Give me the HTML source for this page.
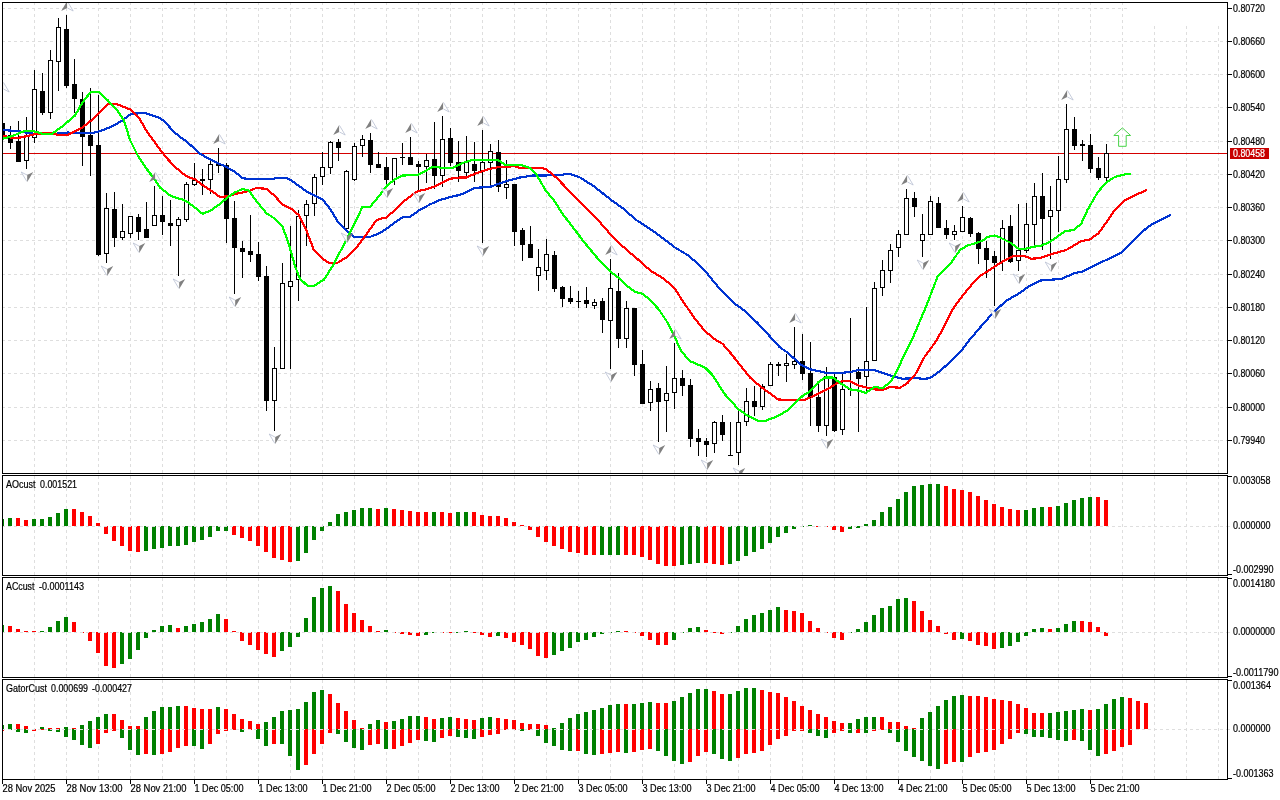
<!DOCTYPE html>
<html lang="en"><head><meta charset="utf-8"><title>Chart</title>
<style>html,body{margin:0;padding:0;background:#fff;width:1280px;height:800px;overflow:hidden}svg{display:block}text{font-family:"Liberation Sans",sans-serif;font-size:10px;fill:#000;stroke:#000;stroke-width:0.2px}.cr{shape-rendering:crispEdges}</style></head><body>
<svg width="1280" height="800" viewBox="0 0 1280 800">
<rect width="1280" height="800" fill="#fff"/>
<defs>
<clipPath id="cw"><rect x="3" y="3" width="1224" height="470"/><rect x="3" y="476" width="1224" height="99"/><rect x="3" y="578" width="1224" height="99"/><rect x="3" y="680" width="1224" height="99"/></clipPath>
<clipPath id="cm"><rect x="3" y="3" width="1224" height="470"/></clipPath>
</defs>
<g class="cr" stroke="#dedede" stroke-width="1" stroke-dasharray="3 3" fill="none" clip-path="url(#cw)">
<line x1="34.5" y1="2" x2="34.5" y2="780"/>
<line x1="66.5" y1="2" x2="66.5" y2="780"/>
<line x1="98.5" y1="2" x2="98.5" y2="780"/>
<line x1="130.5" y1="2" x2="130.5" y2="780"/>
<line x1="162.5" y1="2" x2="162.5" y2="780"/>
<line x1="194.5" y1="2" x2="194.5" y2="780"/>
<line x1="226.5" y1="2" x2="226.5" y2="780"/>
<line x1="258.5" y1="2" x2="258.5" y2="780"/>
<line x1="290.5" y1="2" x2="290.5" y2="780"/>
<line x1="322.5" y1="2" x2="322.5" y2="780"/>
<line x1="354.5" y1="2" x2="354.5" y2="780"/>
<line x1="386.5" y1="2" x2="386.5" y2="780"/>
<line x1="418.5" y1="2" x2="418.5" y2="780"/>
<line x1="450.5" y1="2" x2="450.5" y2="780"/>
<line x1="482.5" y1="2" x2="482.5" y2="780"/>
<line x1="514.5" y1="2" x2="514.5" y2="780"/>
<line x1="546.5" y1="2" x2="546.5" y2="780"/>
<line x1="578.5" y1="2" x2="578.5" y2="780"/>
<line x1="610.5" y1="2" x2="610.5" y2="780"/>
<line x1="642.5" y1="2" x2="642.5" y2="780"/>
<line x1="674.5" y1="2" x2="674.5" y2="780"/>
<line x1="706.5" y1="2" x2="706.5" y2="780"/>
<line x1="738.5" y1="2" x2="738.5" y2="780"/>
<line x1="770.5" y1="2" x2="770.5" y2="780"/>
<line x1="802.5" y1="2" x2="802.5" y2="780"/>
<line x1="834.5" y1="2" x2="834.5" y2="780"/>
<line x1="866.5" y1="2" x2="866.5" y2="780"/>
<line x1="898.5" y1="2" x2="898.5" y2="780"/>
<line x1="930.5" y1="2" x2="930.5" y2="780"/>
<line x1="962.5" y1="2" x2="962.5" y2="780"/>
<line x1="994.5" y1="2" x2="994.5" y2="780"/>
<line x1="1026.5" y1="2" x2="1026.5" y2="780"/>
<line x1="1058.5" y1="2" x2="1058.5" y2="780"/>
<line x1="1090.5" y1="2" x2="1090.5" y2="780"/>
<line x1="1122.5" y1="2" x2="1122.5" y2="780"/>
<line x1="1154.5" y1="2" x2="1154.5" y2="780"/>
<line x1="1186.5" y1="2" x2="1186.5" y2="780"/>
<line x1="1218.5" y1="2" x2="1218.5" y2="780"/>
</g>
<g class="cr" stroke="#dedede" stroke-width="1" stroke-dasharray="3 3" fill="none">
<line x1="2" y1="8.5" x2="1227" y2="8.5"/>
<line x1="2" y1="41.5" x2="1227" y2="41.5"/>
<line x1="2" y1="74.5" x2="1227" y2="74.5"/>
<line x1="2" y1="107.5" x2="1227" y2="107.5"/>
<line x1="2" y1="141.5" x2="1227" y2="141.5"/>
<line x1="2" y1="174.5" x2="1227" y2="174.5"/>
<line x1="2" y1="207.5" x2="1227" y2="207.5"/>
<line x1="2" y1="240.5" x2="1227" y2="240.5"/>
<line x1="2" y1="274.5" x2="1227" y2="274.5"/>
<line x1="2" y1="307.5" x2="1227" y2="307.5"/>
<line x1="2" y1="340.5" x2="1227" y2="340.5"/>
<line x1="2" y1="373.5" x2="1227" y2="373.5"/>
<line x1="2" y1="407.5" x2="1227" y2="407.5"/>
<line x1="2" y1="440.5" x2="1227" y2="440.5"/>
</g>
<rect class="cr" x="1127" y="3" width="100" height="23" fill="#fff"/>
<g class="cr">
<rect x="3" y="153" width="1224" height="1" fill="#d40000"/>
</g>
<g class="cr" id="candles" clip-path="url(#cm)">
<rect x="2" y="96" width="1" height="46" fill="#000"/>
<rect x="0" y="123" width="5" height="15" fill="#000"/>
<rect x="10" y="126" width="1" height="23" fill="#000"/>
<rect x="8" y="135" width="5" height="8" fill="#000"/>
<rect x="18" y="121" width="1" height="41" fill="#000"/>
<rect x="16" y="141" width="5" height="21" fill="#000"/>
<rect x="26" y="117" width="1" height="52" fill="#000"/>
<rect x="24" y="136" width="5" height="25" fill="#000"/>
<rect x="25" y="137" width="3" height="23" fill="#fff"/>
<rect x="34" y="70" width="1" height="73" fill="#000"/>
<rect x="32" y="89" width="5" height="49" fill="#000"/>
<rect x="33" y="90" width="3" height="47" fill="#fff"/>
<rect x="42" y="73" width="1" height="42" fill="#000"/>
<rect x="40" y="91" width="5" height="22" fill="#000"/>
<rect x="50" y="50" width="1" height="69" fill="#000"/>
<rect x="48" y="60" width="5" height="53" fill="#000"/>
<rect x="49" y="61" width="3" height="51" fill="#fff"/>
<rect x="58" y="18" width="1" height="73" fill="#000"/>
<rect x="56" y="27" width="5" height="35" fill="#000"/>
<rect x="57" y="28" width="3" height="33" fill="#fff"/>
<rect x="66" y="15" width="1" height="73" fill="#000"/>
<rect x="64" y="29" width="5" height="57" fill="#000"/>
<rect x="74" y="59" width="1" height="54" fill="#000"/>
<rect x="72" y="84" width="5" height="15" fill="#000"/>
<rect x="82" y="92" width="1" height="74" fill="#000"/>
<rect x="80" y="99" width="5" height="38" fill="#000"/>
<rect x="90" y="88" width="1" height="88" fill="#000"/>
<rect x="88" y="135" width="5" height="11" fill="#000"/>
<rect x="98" y="95" width="1" height="161" fill="#000"/>
<rect x="96" y="145" width="5" height="110" fill="#000"/>
<rect x="106" y="193" width="1" height="70" fill="#000"/>
<rect x="104" y="208" width="5" height="46" fill="#000"/>
<rect x="105" y="209" width="3" height="44" fill="#fff"/>
<rect x="114" y="192" width="1" height="55" fill="#000"/>
<rect x="112" y="209" width="5" height="29" fill="#000"/>
<rect x="122" y="204" width="1" height="36" fill="#000"/>
<rect x="120" y="231" width="5" height="7" fill="#000"/>
<rect x="121" y="232" width="3" height="5" fill="#fff"/>
<rect x="130" y="216" width="1" height="22" fill="#000"/>
<rect x="128" y="216" width="5" height="18" fill="#000"/>
<rect x="129" y="217" width="3" height="16" fill="#fff"/>
<rect x="138" y="214" width="1" height="26" fill="#000"/>
<rect x="136" y="217" width="5" height="15" fill="#000"/>
<rect x="146" y="202" width="1" height="36" fill="#000"/>
<rect x="144" y="229" width="5" height="9" fill="#000"/>
<rect x="154" y="186" width="1" height="40" fill="#000"/>
<rect x="152" y="215" width="5" height="11" fill="#000"/>
<rect x="153" y="216" width="3" height="9" fill="#fff"/>
<rect x="162" y="196" width="1" height="39" fill="#000"/>
<rect x="160" y="215" width="5" height="7" fill="#000"/>
<rect x="170" y="200" width="1" height="46" fill="#000"/>
<rect x="168" y="223" width="5" height="3" fill="#000"/>
<rect x="178" y="217" width="1" height="59" fill="#000"/>
<rect x="176" y="219" width="5" height="7" fill="#000"/>
<rect x="177" y="220" width="3" height="5" fill="#fff"/>
<rect x="186" y="182" width="1" height="40" fill="#000"/>
<rect x="184" y="184" width="5" height="36" fill="#000"/>
<rect x="185" y="185" width="3" height="34" fill="#fff"/>
<rect x="194" y="163" width="1" height="23" fill="#000"/>
<rect x="192" y="180" width="5" height="5" fill="#000"/>
<rect x="193" y="181" width="3" height="3" fill="#fff"/>
<rect x="202" y="169" width="1" height="26" fill="#000"/>
<rect x="200" y="179" width="5" height="2" fill="#000"/>
<rect x="210" y="160" width="1" height="34" fill="#000"/>
<rect x="208" y="164" width="5" height="16" fill="#000"/>
<rect x="209" y="165" width="3" height="14" fill="#fff"/>
<rect x="218" y="148" width="1" height="25" fill="#000"/>
<rect x="216" y="164" width="5" height="2" fill="#000"/>
<rect x="226" y="163" width="1" height="80" fill="#000"/>
<rect x="224" y="165" width="5" height="54" fill="#000"/>
<rect x="234" y="201" width="1" height="93" fill="#000"/>
<rect x="232" y="218" width="5" height="30" fill="#000"/>
<rect x="242" y="241" width="1" height="37" fill="#000"/>
<rect x="240" y="248" width="5" height="4" fill="#000"/>
<rect x="250" y="215" width="1" height="47" fill="#000"/>
<rect x="248" y="251" width="5" height="4" fill="#000"/>
<rect x="258" y="242" width="1" height="39" fill="#000"/>
<rect x="256" y="254" width="5" height="23" fill="#000"/>
<rect x="266" y="266" width="1" height="145" fill="#000"/>
<rect x="264" y="276" width="5" height="125" fill="#000"/>
<rect x="274" y="347" width="1" height="84" fill="#000"/>
<rect x="272" y="368" width="5" height="33" fill="#000"/>
<rect x="273" y="369" width="3" height="31" fill="#fff"/>
<rect x="282" y="263" width="1" height="106" fill="#000"/>
<rect x="280" y="283" width="5" height="86" fill="#000"/>
<rect x="281" y="284" width="3" height="84" fill="#fff"/>
<rect x="290" y="226" width="1" height="143" fill="#000"/>
<rect x="288" y="281" width="5" height="6" fill="#000"/>
<rect x="289" y="282" width="3" height="4" fill="#fff"/>
<rect x="298" y="210" width="1" height="91" fill="#000"/>
<rect x="296" y="216" width="5" height="64" fill="#000"/>
<rect x="297" y="217" width="3" height="62" fill="#fff"/>
<rect x="306" y="200" width="1" height="46" fill="#000"/>
<rect x="304" y="204" width="5" height="12" fill="#000"/>
<rect x="305" y="205" width="3" height="10" fill="#fff"/>
<rect x="314" y="174" width="1" height="42" fill="#000"/>
<rect x="312" y="177" width="5" height="27" fill="#000"/>
<rect x="313" y="178" width="3" height="25" fill="#fff"/>
<rect x="322" y="152" width="1" height="33" fill="#000"/>
<rect x="320" y="167" width="5" height="10" fill="#000"/>
<rect x="321" y="168" width="3" height="8" fill="#fff"/>
<rect x="330" y="141" width="1" height="33" fill="#000"/>
<rect x="328" y="142" width="5" height="26" fill="#000"/>
<rect x="329" y="143" width="3" height="24" fill="#fff"/>
<rect x="338" y="139" width="1" height="22" fill="#000"/>
<rect x="336" y="142" width="5" height="6" fill="#000"/>
<rect x="346" y="170" width="1" height="60" fill="#000"/>
<rect x="344" y="171" width="5" height="58" fill="#000"/>
<rect x="345" y="172" width="3" height="56" fill="#fff"/>
<rect x="354" y="143" width="1" height="38" fill="#000"/>
<rect x="352" y="146" width="5" height="34" fill="#000"/>
<rect x="353" y="147" width="3" height="32" fill="#fff"/>
<rect x="362" y="135" width="1" height="22" fill="#000"/>
<rect x="360" y="139" width="5" height="7" fill="#000"/>
<rect x="361" y="140" width="3" height="5" fill="#fff"/>
<rect x="370" y="133" width="1" height="40" fill="#000"/>
<rect x="368" y="140" width="5" height="25" fill="#000"/>
<rect x="378" y="152" width="1" height="16" fill="#000"/>
<rect x="376" y="164" width="5" height="4" fill="#000"/>
<rect x="386" y="157" width="1" height="28" fill="#000"/>
<rect x="384" y="167" width="5" height="13" fill="#000"/>
<rect x="394" y="158" width="1" height="27" fill="#000"/>
<rect x="392" y="158" width="5" height="22" fill="#000"/>
<rect x="393" y="159" width="3" height="20" fill="#fff"/>
<rect x="402" y="143" width="1" height="22" fill="#000"/>
<rect x="400" y="157" width="5" height="1" fill="#000"/>
<rect x="410" y="137" width="1" height="28" fill="#000"/>
<rect x="408" y="157" width="5" height="8" fill="#000"/>
<rect x="418" y="161" width="1" height="29" fill="#000"/>
<rect x="416" y="164" width="5" height="3" fill="#000"/>
<rect x="426" y="154" width="1" height="29" fill="#000"/>
<rect x="424" y="160" width="5" height="7" fill="#000"/>
<rect x="425" y="161" width="3" height="5" fill="#fff"/>
<rect x="434" y="122" width="1" height="67" fill="#000"/>
<rect x="432" y="159" width="5" height="17" fill="#000"/>
<rect x="442" y="116" width="1" height="71" fill="#000"/>
<rect x="440" y="139" width="5" height="37" fill="#000"/>
<rect x="441" y="140" width="3" height="35" fill="#fff"/>
<rect x="450" y="128" width="1" height="38" fill="#000"/>
<rect x="448" y="138" width="5" height="25" fill="#000"/>
<rect x="458" y="141" width="1" height="41" fill="#000"/>
<rect x="456" y="162" width="5" height="9" fill="#000"/>
<rect x="466" y="136" width="1" height="41" fill="#000"/>
<rect x="464" y="162" width="5" height="11" fill="#000"/>
<rect x="465" y="163" width="3" height="9" fill="#fff"/>
<rect x="474" y="142" width="1" height="40" fill="#000"/>
<rect x="472" y="164" width="5" height="7" fill="#000"/>
<rect x="482" y="130" width="1" height="113" fill="#000"/>
<rect x="480" y="162" width="5" height="9" fill="#000"/>
<rect x="481" y="163" width="3" height="7" fill="#fff"/>
<rect x="490" y="144" width="1" height="41" fill="#000"/>
<rect x="488" y="151" width="5" height="12" fill="#000"/>
<rect x="489" y="152" width="3" height="10" fill="#fff"/>
<rect x="498" y="140" width="1" height="52" fill="#000"/>
<rect x="496" y="152" width="5" height="35" fill="#000"/>
<rect x="506" y="160" width="1" height="39" fill="#000"/>
<rect x="504" y="184" width="5" height="4" fill="#000"/>
<rect x="505" y="185" width="3" height="2" fill="#fff"/>
<rect x="514" y="184" width="1" height="62" fill="#000"/>
<rect x="512" y="184" width="5" height="48" fill="#000"/>
<rect x="522" y="228" width="1" height="33" fill="#000"/>
<rect x="520" y="230" width="5" height="15" fill="#000"/>
<rect x="530" y="226" width="1" height="32" fill="#000"/>
<rect x="528" y="244" width="5" height="14" fill="#000"/>
<rect x="538" y="249" width="1" height="42" fill="#000"/>
<rect x="536" y="267" width="5" height="9" fill="#000"/>
<rect x="537" y="268" width="3" height="7" fill="#fff"/>
<rect x="546" y="239" width="1" height="41" fill="#000"/>
<rect x="544" y="254" width="5" height="17" fill="#000"/>
<rect x="545" y="255" width="3" height="15" fill="#fff"/>
<rect x="554" y="251" width="1" height="41" fill="#000"/>
<rect x="552" y="255" width="5" height="34" fill="#000"/>
<rect x="562" y="286" width="1" height="21" fill="#000"/>
<rect x="560" y="287" width="5" height="12" fill="#000"/>
<rect x="570" y="286" width="1" height="18" fill="#000"/>
<rect x="568" y="298" width="5" height="4" fill="#000"/>
<rect x="578" y="291" width="1" height="17" fill="#000"/>
<rect x="576" y="301" width="5" height="1" fill="#000"/>
<rect x="586" y="287" width="1" height="21" fill="#000"/>
<rect x="584" y="300" width="5" height="4" fill="#000"/>
<rect x="594" y="299" width="1" height="10" fill="#000"/>
<rect x="592" y="302" width="5" height="4" fill="#000"/>
<rect x="593" y="303" width="3" height="2" fill="#fff"/>
<rect x="602" y="298" width="1" height="35" fill="#000"/>
<rect x="600" y="301" width="5" height="19" fill="#000"/>
<rect x="610" y="259" width="1" height="110" fill="#000"/>
<rect x="608" y="288" width="5" height="33" fill="#000"/>
<rect x="609" y="289" width="3" height="31" fill="#fff"/>
<rect x="618" y="273" width="1" height="75" fill="#000"/>
<rect x="616" y="291" width="5" height="48" fill="#000"/>
<rect x="626" y="301" width="1" height="47" fill="#000"/>
<rect x="624" y="308" width="5" height="31" fill="#000"/>
<rect x="625" y="309" width="3" height="29" fill="#fff"/>
<rect x="634" y="308" width="1" height="68" fill="#000"/>
<rect x="632" y="308" width="5" height="57" fill="#000"/>
<rect x="642" y="350" width="1" height="54" fill="#000"/>
<rect x="640" y="364" width="5" height="40" fill="#000"/>
<rect x="650" y="381" width="1" height="30" fill="#000"/>
<rect x="648" y="389" width="5" height="14" fill="#000"/>
<rect x="649" y="390" width="3" height="12" fill="#fff"/>
<rect x="658" y="383" width="1" height="59" fill="#000"/>
<rect x="656" y="388" width="5" height="14" fill="#000"/>
<rect x="666" y="366" width="1" height="66" fill="#000"/>
<rect x="664" y="393" width="5" height="8" fill="#000"/>
<rect x="665" y="394" width="3" height="6" fill="#fff"/>
<rect x="674" y="343" width="1" height="66" fill="#000"/>
<rect x="672" y="378" width="5" height="15" fill="#000"/>
<rect x="673" y="379" width="3" height="13" fill="#fff"/>
<rect x="682" y="370" width="1" height="26" fill="#000"/>
<rect x="680" y="378" width="5" height="8" fill="#000"/>
<rect x="690" y="379" width="1" height="68" fill="#000"/>
<rect x="688" y="385" width="5" height="54" fill="#000"/>
<rect x="698" y="429" width="1" height="27" fill="#000"/>
<rect x="696" y="438" width="5" height="4" fill="#000"/>
<rect x="706" y="438" width="1" height="19" fill="#000"/>
<rect x="704" y="441" width="5" height="4" fill="#000"/>
<rect x="714" y="421" width="1" height="32" fill="#000"/>
<rect x="712" y="422" width="5" height="22" fill="#000"/>
<rect x="713" y="423" width="3" height="20" fill="#fff"/>
<rect x="722" y="415" width="1" height="26" fill="#000"/>
<rect x="720" y="422" width="5" height="13" fill="#000"/>
<rect x="730" y="422" width="1" height="34" fill="#000"/>
<rect x="728" y="455" width="5" height="1" fill="#000"/>
<rect x="738" y="410" width="1" height="55" fill="#000"/>
<rect x="736" y="422" width="5" height="31" fill="#000"/>
<rect x="737" y="423" width="3" height="29" fill="#fff"/>
<rect x="746" y="388" width="1" height="38" fill="#000"/>
<rect x="744" y="401" width="5" height="21" fill="#000"/>
<rect x="745" y="402" width="3" height="19" fill="#fff"/>
<rect x="754" y="386" width="1" height="30" fill="#000"/>
<rect x="752" y="401" width="5" height="6" fill="#000"/>
<rect x="762" y="384" width="1" height="26" fill="#000"/>
<rect x="760" y="386" width="5" height="21" fill="#000"/>
<rect x="761" y="387" width="3" height="19" fill="#fff"/>
<rect x="770" y="362" width="1" height="24" fill="#000"/>
<rect x="768" y="364" width="5" height="22" fill="#000"/>
<rect x="769" y="365" width="3" height="20" fill="#fff"/>
<rect x="778" y="362" width="1" height="14" fill="#000"/>
<rect x="776" y="364" width="5" height="2" fill="#000"/>
<rect x="786" y="354" width="1" height="28" fill="#000"/>
<rect x="784" y="363" width="5" height="3" fill="#000"/>
<rect x="785" y="364" width="3" height="1" fill="#fff"/>
<rect x="794" y="327" width="1" height="42" fill="#000"/>
<rect x="792" y="361" width="5" height="4" fill="#000"/>
<rect x="793" y="362" width="3" height="2" fill="#fff"/>
<rect x="802" y="334" width="1" height="46" fill="#000"/>
<rect x="800" y="361" width="5" height="13" fill="#000"/>
<rect x="810" y="342" width="1" height="84" fill="#000"/>
<rect x="808" y="373" width="5" height="25" fill="#000"/>
<rect x="818" y="384" width="1" height="48" fill="#000"/>
<rect x="816" y="397" width="5" height="29" fill="#000"/>
<rect x="826" y="367" width="1" height="69" fill="#000"/>
<rect x="824" y="376" width="5" height="50" fill="#000"/>
<rect x="825" y="377" width="3" height="48" fill="#fff"/>
<rect x="834" y="374" width="1" height="58" fill="#000"/>
<rect x="832" y="377" width="5" height="54" fill="#000"/>
<rect x="842" y="374" width="1" height="61" fill="#000"/>
<rect x="840" y="389" width="5" height="41" fill="#000"/>
<rect x="841" y="390" width="3" height="39" fill="#fff"/>
<rect x="850" y="318" width="1" height="78" fill="#000"/>
<rect x="848" y="389" width="5" height="1" fill="#000"/>
<rect x="858" y="367" width="1" height="65" fill="#000"/>
<rect x="856" y="372" width="5" height="7" fill="#000"/>
<rect x="866" y="307" width="1" height="85" fill="#000"/>
<rect x="864" y="361" width="5" height="16" fill="#000"/>
<rect x="865" y="362" width="3" height="14" fill="#fff"/>
<rect x="874" y="282" width="1" height="79" fill="#000"/>
<rect x="872" y="288" width="5" height="73" fill="#000"/>
<rect x="873" y="289" width="3" height="71" fill="#fff"/>
<rect x="882" y="260" width="1" height="36" fill="#000"/>
<rect x="880" y="270" width="5" height="18" fill="#000"/>
<rect x="881" y="271" width="3" height="16" fill="#fff"/>
<rect x="890" y="244" width="1" height="39" fill="#000"/>
<rect x="888" y="250" width="5" height="21" fill="#000"/>
<rect x="889" y="251" width="3" height="19" fill="#fff"/>
<rect x="898" y="230" width="1" height="27" fill="#000"/>
<rect x="896" y="234" width="5" height="14" fill="#000"/>
<rect x="897" y="235" width="3" height="12" fill="#fff"/>
<rect x="906" y="189" width="1" height="46" fill="#000"/>
<rect x="904" y="198" width="5" height="37" fill="#000"/>
<rect x="905" y="199" width="3" height="35" fill="#fff"/>
<rect x="914" y="192" width="1" height="25" fill="#000"/>
<rect x="912" y="198" width="5" height="9" fill="#000"/>
<rect x="922" y="214" width="1" height="43" fill="#000"/>
<rect x="920" y="234" width="5" height="7" fill="#000"/>
<rect x="921" y="235" width="3" height="5" fill="#fff"/>
<rect x="930" y="196" width="1" height="39" fill="#000"/>
<rect x="928" y="201" width="5" height="34" fill="#000"/>
<rect x="929" y="202" width="3" height="32" fill="#fff"/>
<rect x="938" y="197" width="1" height="31" fill="#000"/>
<rect x="936" y="203" width="5" height="25" fill="#000"/>
<rect x="946" y="220" width="1" height="19" fill="#000"/>
<rect x="944" y="228" width="5" height="7" fill="#000"/>
<rect x="954" y="225" width="1" height="15" fill="#000"/>
<rect x="952" y="231" width="5" height="4" fill="#000"/>
<rect x="953" y="232" width="3" height="2" fill="#fff"/>
<rect x="962" y="206" width="1" height="26" fill="#000"/>
<rect x="960" y="217" width="5" height="15" fill="#000"/>
<rect x="961" y="218" width="3" height="13" fill="#fff"/>
<rect x="970" y="217" width="1" height="20" fill="#000"/>
<rect x="968" y="218" width="5" height="16" fill="#000"/>
<rect x="978" y="232" width="1" height="32" fill="#000"/>
<rect x="976" y="233" width="5" height="16" fill="#000"/>
<rect x="986" y="241" width="1" height="37" fill="#000"/>
<rect x="984" y="248" width="5" height="12" fill="#000"/>
<rect x="994" y="251" width="1" height="55" fill="#000"/>
<rect x="992" y="256" width="5" height="7" fill="#000"/>
<rect x="1002" y="220" width="1" height="51" fill="#000"/>
<rect x="1000" y="228" width="5" height="34" fill="#000"/>
<rect x="1001" y="229" width="3" height="32" fill="#fff"/>
<rect x="1010" y="215" width="1" height="48" fill="#000"/>
<rect x="1008" y="226" width="5" height="36" fill="#000"/>
<rect x="1018" y="204" width="1" height="67" fill="#000"/>
<rect x="1016" y="250" width="5" height="11" fill="#000"/>
<rect x="1017" y="251" width="3" height="9" fill="#fff"/>
<rect x="1026" y="203" width="1" height="50" fill="#000"/>
<rect x="1024" y="224" width="5" height="27" fill="#000"/>
<rect x="1025" y="225" width="3" height="25" fill="#fff"/>
<rect x="1034" y="183" width="1" height="63" fill="#000"/>
<rect x="1032" y="196" width="5" height="29" fill="#000"/>
<rect x="1033" y="197" width="3" height="27" fill="#fff"/>
<rect x="1042" y="173" width="1" height="77" fill="#000"/>
<rect x="1040" y="196" width="5" height="23" fill="#000"/>
<rect x="1050" y="186" width="1" height="73" fill="#000"/>
<rect x="1048" y="210" width="5" height="7" fill="#000"/>
<rect x="1049" y="211" width="3" height="5" fill="#fff"/>
<rect x="1058" y="156" width="1" height="76" fill="#000"/>
<rect x="1056" y="179" width="5" height="32" fill="#000"/>
<rect x="1057" y="180" width="3" height="30" fill="#fff"/>
<rect x="1066" y="104" width="1" height="79" fill="#000"/>
<rect x="1064" y="129" width="5" height="51" fill="#000"/>
<rect x="1065" y="130" width="3" height="49" fill="#fff"/>
<rect x="1074" y="117" width="1" height="33" fill="#000"/>
<rect x="1072" y="129" width="5" height="17" fill="#000"/>
<rect x="1082" y="140" width="1" height="21" fill="#000"/>
<rect x="1080" y="144" width="5" height="2" fill="#000"/>
<rect x="1090" y="134" width="1" height="39" fill="#000"/>
<rect x="1088" y="145" width="5" height="24" fill="#000"/>
<rect x="1098" y="157" width="1" height="23" fill="#000"/>
<rect x="1096" y="168" width="5" height="10" fill="#000"/>
<rect x="1106" y="144" width="1" height="37" fill="#000"/>
<rect x="1104" y="153" width="5" height="25" fill="#000"/>
<rect x="1105" y="154" width="3" height="23" fill="#fff"/>
</g>
<g id="ma" clip-path="url(#cm)" shape-rendering="crispEdges">
<polyline points="3.0,130.0 18.8,131.2 31.0,133.5 50.0,134.4 67.5,132.5 75.0,133.0 92.5,133.0 100.0,131.2 112.5,126.2 122.0,120.6 131.0,113.8 145.0,113.0 160.0,118.0 166.2,123.0 172.5,130.6 180.0,136.9 186.2,141.2 193.8,148.0 200.0,153.8 207.5,158.0 215.0,161.9 225.0,166.2 235.0,171.9 242.5,178.0 247.5,179.0 273.8,179.0 275.0,178.0 286.2,178.0 290.6,180.0 306.2,191.2 322.5,199.4 330.0,208.8 337.5,221.2 347.5,231.2 354.4,236.9 370.0,236.9 380.0,233.0 387.5,228.0 395.0,222.5 402.5,217.2 410.0,216.9 418.8,210.6 430.0,204.4 440.0,200.0 450.0,197.2 460.0,194.8 462.5,193.8 475.0,188.0 491.2,186.5 506.2,181.2 520.0,177.5 532.5,175.6 562.5,175.2 565.0,173.8 570.0,173.8 580.0,177.5 593.8,186.2 611.2,200.0 622.5,208.0 636.2,220.0 650.0,228.8 662.5,238.0 675.0,247.5 687.5,255.0 695.0,261.2 707.5,273.8 717.5,286.2 720.6,290.0 732.5,301.9 745.0,311.2 757.5,323.0 767.5,333.8 780.0,347.5 787.5,352.5 800.0,363.8 802.5,365.6 810.5,369.4 826.0,372.8 840.0,373.0 850.5,371.9 858.5,370.0 874.5,370.0 882.5,373.0 893.8,376.5 902.5,378.8 915.0,378.0 925.0,379.0 931.0,377.5 940.0,371.0 950.0,362.0 962.0,350.0 969.4,340.0 981.2,326.2 995.0,310.6 1007.5,300.0 1017.5,294.4 1030.0,285.6 1040.0,280.6 1062.0,278.8 1074.5,273.0 1082.0,271.8 1098.0,263.8 1122.0,252.5 1125.0,248.8 1141.2,232.5 1150.0,225.6 1160.0,220.0 1171.0,215.0" fill="none" stroke="#0034d2" stroke-width="2.2" stroke-linejoin="round" stroke-linecap="butt"/>
<polyline points="3.0,135.6 12.5,138.0 21.0,137.5 36.0,133.8 50.0,133.0 58.8,135.0 67.5,135.0 82.5,127.5 92.5,119.4 107.5,104.4 116.0,103.8 130.0,109.4 138.8,117.5 147.5,132.5 160.0,149.4 166.2,157.5 175.0,166.9 186.2,176.2 195.0,179.4 202.5,185.0 210.0,190.0 220.0,196.9 228.8,196.2 236.2,193.8 245.0,191.9 250.0,190.6 256.2,188.0 266.2,188.8 273.8,195.0 282.5,204.4 291.2,208.8 298.8,215.0 306.2,230.0 313.8,250.0 322.5,258.8 328.8,262.8 337.5,262.8 346.2,257.5 355.0,249.4 365.0,236.2 376.2,220.6 380.0,218.8 386.2,217.5 395.0,210.0 403.8,201.2 417.5,191.2 426.2,189.4 435.0,186.2 450.0,178.8 460.0,177.5 466.2,177.5 475.0,173.8 488.8,169.0 500.0,166.9 515.0,166.2 520.0,168.0 542.5,168.0 546.2,169.4 556.2,177.5 575.0,196.9 596.2,218.0 610.0,233.8 621.2,245.0 631.2,253.8 640.0,261.2 646.2,266.9 652.5,271.9 662.5,278.0 671.2,285.0 675.6,290.0 685.0,304.4 695.0,318.8 705.0,331.2 715.0,339.4 722.5,343.8 731.2,353.8 740.0,365.0 750.0,377.5 760.0,386.2 765.0,390.0 770.5,393.8 778.0,399.5 790.0,400.0 803.8,400.0 810.5,397.5 826.0,390.0 837.5,383.0 842.5,381.0 848.8,380.6 858.5,385.6 866.5,387.5 875.0,389.4 883.8,389.4 890.0,387.0 900.0,387.8 907.5,383.0 915.0,375.0 924.5,357.0 936.9,340.0 953.8,307.5 967.5,289.4 978.8,276.9 992.5,268.0 1005.0,260.0 1015.0,255.6 1023.8,255.6 1031.2,258.8 1040.0,258.0 1052.0,254.0 1066.2,250.0 1081.2,241.2 1090.0,239.4 1098.8,233.0 1106.2,222.5 1113.8,211.2 1123.8,201.2 1131.2,196.9 1147.0,190.0" fill="none" stroke="#ff0000" stroke-width="2.2" stroke-linejoin="round" stroke-linecap="butt"/>
<polyline points="3.0,138.8 12.5,136.0 23.8,131.2 33.8,131.2 42.5,133.8 51.0,134.4 62.5,126.2 75.0,115.6 82.5,102.5 90.6,92.0 98.8,92.0 107.5,100.0 116.0,108.8 123.8,120.0 130.0,140.0 137.5,155.0 147.5,170.0 155.0,180.0 160.0,187.5 171.2,196.2 183.8,200.0 186.0,201.0 195.0,207.5 202.5,213.8 210.0,211.0 220.0,203.8 227.5,197.5 235.0,192.5 242.5,188.8 248.8,190.6 257.5,202.5 266.2,213.0 275.0,218.8 282.5,226.9 287.5,240.0 291.2,252.5 295.0,266.2 300.0,278.8 307.5,285.8 313.8,286.0 321.5,281.0 323.8,280.0 332.5,266.2 345.0,242.5 355.0,222.5 362.5,206.9 370.0,206.9 380.0,195.0 387.5,185.0 395.0,179.4 402.5,175.6 417.5,174.8 425.0,171.2 432.5,167.0 437.5,167.0 441.2,168.0 452.5,168.0 460.0,164.4 464.0,162.5 472.5,160.0 497.5,159.6 505.0,164.6 521.2,165.0 530.0,168.0 536.2,174.4 546.2,191.2 553.8,200.0 562.5,213.8 575.0,230.0 582.5,240.0 586.5,245.0 599.0,260.0 610.0,271.2 618.8,278.0 627.5,286.2 635.0,291.9 642.5,293.8 648.8,298.8 658.8,309.4 667.5,322.5 675.0,337.5 681.2,351.2 690.0,361.2 705.0,367.5 712.5,375.0 721.2,388.8 725.5,395.0 738.0,408.8 748.0,416.0 758.0,420.8 765.5,420.8 778.0,416.0 788.0,410.0 790.0,408.0 802.5,396.0 810.5,391.0 818.5,382.0 825.0,377.5 833.0,377.5 840.0,383.0 850.5,389.4 858.5,390.6 865.6,393.0 874.5,387.0 882.5,388.0 890.0,382.5 896.0,373.0 902.5,358.8 911.9,340.0 926.2,306.2 937.5,276.9 950.0,264.4 960.0,250.0 967.5,245.6 977.5,242.5 983.8,240.0 987.0,237.0 994.5,235.5 1000.0,237.5 1010.0,242.5 1018.8,248.8 1025.0,248.8 1032.5,246.9 1041.2,245.6 1050.0,241.9 1065.0,231.2 1073.8,230.0 1081.2,223.8 1087.5,210.0 1097.5,192.5 1106.2,182.5 1115.0,176.9 1125.0,174.4 1131.0,173.8" fill="none" stroke="#00ff00" stroke-width="2.2" stroke-linejoin="round" stroke-linecap="butt"/>
</g>
<g id="fract" clip-path="url(#cm)">
<path d="M3.2 82 L-2.8 92 L3.2 89 Z" fill="#808080"/>
<path d="M3.5 82.5 L9.2 92 L3.5 89" fill="#fff" stroke="#b8bfd2" stroke-width="0.8"/>
<path d="M67.2 1 L61.2 11 L67.2 8 Z" fill="#808080"/>
<path d="M67.5 1.5 L73.2 11 L67.5 8" fill="#fff" stroke="#b8bfd2" stroke-width="0.8"/>
<path d="M155.2 172 L149.2 182 L155.2 179 Z" fill="#808080"/>
<path d="M155.5 172.5 L161.2 182 L155.5 179" fill="#fff" stroke="#b8bfd2" stroke-width="0.8"/>
<path d="M219.2 134 L213.2 144 L219.2 141 Z" fill="#808080"/>
<path d="M219.5 134.5 L225.2 144 L219.5 141" fill="#fff" stroke="#b8bfd2" stroke-width="0.8"/>
<path d="M339.2 125 L333.2 135 L339.2 132 Z" fill="#808080"/>
<path d="M339.5 125.5 L345.2 135 L339.5 132" fill="#fff" stroke="#b8bfd2" stroke-width="0.8"/>
<path d="M371.2 119 L365.2 129 L371.2 126 Z" fill="#808080"/>
<path d="M371.5 119.5 L377.2 129 L371.5 126" fill="#fff" stroke="#b8bfd2" stroke-width="0.8"/>
<path d="M411.2 123 L405.2 133 L411.2 130 Z" fill="#808080"/>
<path d="M411.5 123.5 L417.2 133 L411.5 130" fill="#fff" stroke="#b8bfd2" stroke-width="0.8"/>
<path d="M443.2 102 L437.2 112 L443.2 109 Z" fill="#808080"/>
<path d="M443.5 102.5 L449.2 112 L443.5 109" fill="#fff" stroke="#b8bfd2" stroke-width="0.8"/>
<path d="M483.2 116 L477.2 126 L483.2 123 Z" fill="#808080"/>
<path d="M483.5 116.5 L489.2 126 L483.5 123" fill="#fff" stroke="#b8bfd2" stroke-width="0.8"/>
<path d="M611.2 245 L605.2 255 L611.2 252 Z" fill="#808080"/>
<path d="M611.5 245.5 L617.2 255 L611.5 252" fill="#fff" stroke="#b8bfd2" stroke-width="0.8"/>
<path d="M675.2 329 L669.2 339 L675.2 336 Z" fill="#808080"/>
<path d="M675.5 329.5 L681.2 339 L675.5 336" fill="#fff" stroke="#b8bfd2" stroke-width="0.8"/>
<path d="M795.2 313 L789.2 323 L795.2 320 Z" fill="#808080"/>
<path d="M795.5 313.5 L801.2 323 L795.5 320" fill="#fff" stroke="#b8bfd2" stroke-width="0.8"/>
<path d="M907.2 175 L901.2 185 L907.2 182 Z" fill="#808080"/>
<path d="M907.5 175.5 L913.2 185 L907.5 182" fill="#fff" stroke="#b8bfd2" stroke-width="0.8"/>
<path d="M963.2 192 L957.2 202 L963.2 199 Z" fill="#808080"/>
<path d="M963.5 192.5 L969.2 202 L963.5 199" fill="#fff" stroke="#b8bfd2" stroke-width="0.8"/>
<path d="M1067.2 90 L1061.2 100 L1067.2 97 Z" fill="#808080"/>
<path d="M1067.5 90.5 L1073.2 100 L1067.5 97" fill="#fff" stroke="#b8bfd2" stroke-width="0.8"/>
<path d="M27.2 182 L33.2 172 L27.2 175 Z" fill="#808080"/>
<path d="M26.9 181.5 L21.2 172 L26.9 175" fill="#fff" stroke="#b8bfd2" stroke-width="0.8"/>
<path d="M107.2 276 L113.2 266 L107.2 269 Z" fill="#808080"/>
<path d="M106.9 275.5 L101.2 266 L106.9 269" fill="#fff" stroke="#b8bfd2" stroke-width="0.8"/>
<path d="M139.2 253 L145.2 243 L139.2 246 Z" fill="#808080"/>
<path d="M138.89999999999998 252.5 L133.2 243 L138.89999999999998 246" fill="#fff" stroke="#b8bfd2" stroke-width="0.8"/>
<path d="M179.2 289 L185.2 279 L179.2 282 Z" fill="#808080"/>
<path d="M178.89999999999998 288.5 L173.2 279 L178.89999999999998 282" fill="#fff" stroke="#b8bfd2" stroke-width="0.8"/>
<path d="M235.2 307 L241.2 297 L235.2 300 Z" fill="#808080"/>
<path d="M234.89999999999998 306.5 L229.2 297 L234.89999999999998 300" fill="#fff" stroke="#b8bfd2" stroke-width="0.8"/>
<path d="M275.2 444 L281.2 434 L275.2 437 Z" fill="#808080"/>
<path d="M274.9 443.5 L269.2 434 L274.9 437" fill="#fff" stroke="#b8bfd2" stroke-width="0.8"/>
<path d="M347.2 243 L353.2 233 L347.2 236 Z" fill="#808080"/>
<path d="M346.9 242.5 L341.2 233 L346.9 236" fill="#fff" stroke="#b8bfd2" stroke-width="0.8"/>
<path d="M387.2 198 L393.2 188 L387.2 191 Z" fill="#808080"/>
<path d="M386.9 197.5 L381.2 188 L386.9 191" fill="#fff" stroke="#b8bfd2" stroke-width="0.8"/>
<path d="M419.2 203 L425.2 193 L419.2 196 Z" fill="#808080"/>
<path d="M418.9 202.5 L413.2 193 L418.9 196" fill="#fff" stroke="#b8bfd2" stroke-width="0.8"/>
<path d="M483.2 256 L489.2 246 L483.2 249 Z" fill="#808080"/>
<path d="M482.9 255.5 L477.2 246 L482.9 249" fill="#fff" stroke="#b8bfd2" stroke-width="0.8"/>
<path d="M611.2 382 L617.2 372 L611.2 375 Z" fill="#808080"/>
<path d="M610.9000000000001 381.5 L605.2 372 L610.9000000000001 375" fill="#fff" stroke="#b8bfd2" stroke-width="0.8"/>
<path d="M659.2 455 L665.2 445 L659.2 448 Z" fill="#808080"/>
<path d="M658.9000000000001 454.5 L653.2 445 L658.9000000000001 448" fill="#fff" stroke="#b8bfd2" stroke-width="0.8"/>
<path d="M707.2 470 L713.2 460 L707.2 463 Z" fill="#808080"/>
<path d="M706.9000000000001 469.5 L701.2 460 L706.9000000000001 463" fill="#fff" stroke="#b8bfd2" stroke-width="0.8"/>
<path d="M739.2 478 L745.2 468 L739.2 471 Z" fill="#808080"/>
<path d="M738.9000000000001 477.5 L733.2 468 L738.9000000000001 471" fill="#fff" stroke="#b8bfd2" stroke-width="0.8"/>
<path d="M827.2 449 L833.2 439 L827.2 442 Z" fill="#808080"/>
<path d="M826.9000000000001 448.5 L821.2 439 L826.9000000000001 442" fill="#fff" stroke="#b8bfd2" stroke-width="0.8"/>
<path d="M923.2 270 L929.2 260 L923.2 263 Z" fill="#808080"/>
<path d="M922.9000000000001 269.5 L917.2 260 L922.9000000000001 263" fill="#fff" stroke="#b8bfd2" stroke-width="0.8"/>
<path d="M955.2 253 L961.2 243 L955.2 246 Z" fill="#808080"/>
<path d="M954.9000000000001 252.5 L949.2 243 L954.9000000000001 246" fill="#fff" stroke="#b8bfd2" stroke-width="0.8"/>
<path d="M995.2 319 L1001.2 309 L995.2 312 Z" fill="#808080"/>
<path d="M994.9000000000001 318.5 L989.2 309 L994.9000000000001 312" fill="#fff" stroke="#b8bfd2" stroke-width="0.8"/>
<path d="M1019.2 284 L1025.2 274 L1019.2 277 Z" fill="#808080"/>
<path d="M1018.9000000000001 283.5 L1013.2 274 L1018.9000000000001 277" fill="#fff" stroke="#b8bfd2" stroke-width="0.8"/>
<path d="M1051.2 272 L1057.2 262 L1051.2 265 Z" fill="#808080"/>
<path d="M1050.9 271.5 L1045.2 262 L1050.9 265" fill="#fff" stroke="#b8bfd2" stroke-width="0.8"/>
</g>
<path d="M1122.4 127.9 L1130.6 135.5 L1126.2 135.5 L1126.2 146.3 L1118.6 146.3 L1118.6 135.5 L1113.8 135.5 Z" fill="none" stroke="#48d448" stroke-width="1" stroke-linejoin="miter"/>
<g class="cr" id="hist">
<rect x="0" y="519" width="4" height="7" fill="#008000"/>
<rect x="8" y="518" width="4" height="8" fill="#008000"/>
<rect x="16" y="518" width="4" height="8" fill="#ff0000"/>
<rect x="24" y="520" width="4" height="6" fill="#ff0000"/>
<rect x="32" y="519" width="4" height="7" fill="#008000"/>
<rect x="40" y="519" width="4" height="7" fill="#008000"/>
<rect x="48" y="517" width="4" height="9" fill="#008000"/>
<rect x="56" y="513" width="4" height="13" fill="#008000"/>
<rect x="64" y="509" width="4" height="17" fill="#008000"/>
<rect x="72" y="509" width="4" height="17" fill="#ff0000"/>
<rect x="80" y="512" width="4" height="14" fill="#ff0000"/>
<rect x="88" y="516" width="4" height="10" fill="#ff0000"/>
<rect x="96" y="523" width="4" height="3" fill="#ff0000"/>
<rect x="104" y="526" width="4" height="8" fill="#ff0000"/>
<rect x="112" y="526" width="4" height="15" fill="#ff0000"/>
<rect x="120" y="526" width="4" height="20" fill="#ff0000"/>
<rect x="128" y="526" width="4" height="25" fill="#ff0000"/>
<rect x="136" y="526" width="4" height="26" fill="#ff0000"/>
<rect x="144" y="526" width="4" height="25" fill="#008000"/>
<rect x="152" y="526" width="4" height="23" fill="#008000"/>
<rect x="160" y="526" width="4" height="22" fill="#008000"/>
<rect x="168" y="526" width="4" height="20" fill="#008000"/>
<rect x="176" y="526" width="4" height="20" fill="#008000"/>
<rect x="184" y="526" width="4" height="19" fill="#008000"/>
<rect x="192" y="526" width="4" height="16" fill="#008000"/>
<rect x="200" y="526" width="4" height="14" fill="#008000"/>
<rect x="208" y="526" width="4" height="11" fill="#008000"/>
<rect x="216" y="526" width="4" height="5" fill="#008000"/>
<rect x="224" y="526" width="4" height="5" fill="#008000"/>
<rect x="232" y="526" width="4" height="9" fill="#ff0000"/>
<rect x="240" y="526" width="4" height="12" fill="#ff0000"/>
<rect x="248" y="526" width="4" height="15" fill="#ff0000"/>
<rect x="256" y="526" width="4" height="20" fill="#ff0000"/>
<rect x="264" y="526" width="4" height="26" fill="#ff0000"/>
<rect x="272" y="526" width="4" height="32" fill="#ff0000"/>
<rect x="280" y="526" width="4" height="34" fill="#ff0000"/>
<rect x="288" y="526" width="4" height="36" fill="#ff0000"/>
<rect x="296" y="526" width="4" height="35" fill="#008000"/>
<rect x="304" y="526" width="4" height="27" fill="#008000"/>
<rect x="312" y="526" width="4" height="14" fill="#008000"/>
<rect x="320" y="526" width="4" height="5" fill="#008000"/>
<rect x="328" y="522" width="4" height="4" fill="#008000"/>
<rect x="336" y="514" width="4" height="12" fill="#008000"/>
<rect x="344" y="512" width="4" height="14" fill="#008000"/>
<rect x="352" y="510" width="4" height="16" fill="#008000"/>
<rect x="360" y="508" width="4" height="18" fill="#008000"/>
<rect x="368" y="508" width="4" height="18" fill="#008000"/>
<rect x="376" y="509" width="4" height="17" fill="#ff0000"/>
<rect x="384" y="508" width="4" height="18" fill="#008000"/>
<rect x="392" y="509" width="4" height="17" fill="#ff0000"/>
<rect x="400" y="510" width="4" height="16" fill="#ff0000"/>
<rect x="408" y="511" width="4" height="15" fill="#ff0000"/>
<rect x="416" y="512" width="4" height="14" fill="#ff0000"/>
<rect x="424" y="512" width="4" height="14" fill="#ff0000"/>
<rect x="432" y="512" width="4" height="14" fill="#008000"/>
<rect x="440" y="512" width="4" height="14" fill="#ff0000"/>
<rect x="448" y="513" width="4" height="13" fill="#ff0000"/>
<rect x="456" y="512" width="4" height="14" fill="#008000"/>
<rect x="464" y="512" width="4" height="14" fill="#008000"/>
<rect x="472" y="512" width="4" height="14" fill="#ff0000"/>
<rect x="480" y="515" width="4" height="11" fill="#ff0000"/>
<rect x="488" y="516" width="4" height="10" fill="#ff0000"/>
<rect x="496" y="516" width="4" height="10" fill="#ff0000"/>
<rect x="504" y="518" width="4" height="8" fill="#ff0000"/>
<rect x="512" y="522" width="4" height="4" fill="#ff0000"/>
<rect x="520" y="525" width="4" height="1" fill="#ff0000"/>
<rect x="528" y="526" width="4" height="4" fill="#ff0000"/>
<rect x="536" y="526" width="4" height="11" fill="#ff0000"/>
<rect x="544" y="526" width="4" height="16" fill="#ff0000"/>
<rect x="552" y="526" width="4" height="20" fill="#ff0000"/>
<rect x="560" y="526" width="4" height="23" fill="#ff0000"/>
<rect x="568" y="526" width="4" height="26" fill="#ff0000"/>
<rect x="576" y="526" width="4" height="27" fill="#ff0000"/>
<rect x="584" y="526" width="4" height="29" fill="#ff0000"/>
<rect x="592" y="526" width="4" height="29" fill="#ff0000"/>
<rect x="600" y="526" width="4" height="29" fill="#008000"/>
<rect x="608" y="526" width="4" height="29" fill="#008000"/>
<rect x="616" y="526" width="4" height="29" fill="#008000"/>
<rect x="624" y="526" width="4" height="29" fill="#ff0000"/>
<rect x="632" y="526" width="4" height="29" fill="#ff0000"/>
<rect x="640" y="526" width="4" height="31" fill="#ff0000"/>
<rect x="648" y="526" width="4" height="34" fill="#ff0000"/>
<rect x="656" y="526" width="4" height="38" fill="#ff0000"/>
<rect x="664" y="526" width="4" height="40" fill="#ff0000"/>
<rect x="672" y="526" width="4" height="40" fill="#ff0000"/>
<rect x="680" y="526" width="4" height="39" fill="#008000"/>
<rect x="688" y="526" width="4" height="38" fill="#008000"/>
<rect x="696" y="526" width="4" height="37" fill="#008000"/>
<rect x="704" y="526" width="4" height="37" fill="#ff0000"/>
<rect x="712" y="526" width="4" height="38" fill="#ff0000"/>
<rect x="720" y="526" width="4" height="39" fill="#ff0000"/>
<rect x="728" y="526" width="4" height="38" fill="#008000"/>
<rect x="736" y="526" width="4" height="35" fill="#008000"/>
<rect x="744" y="526" width="4" height="30" fill="#008000"/>
<rect x="752" y="526" width="4" height="26" fill="#008000"/>
<rect x="760" y="526" width="4" height="23" fill="#008000"/>
<rect x="768" y="526" width="4" height="17" fill="#008000"/>
<rect x="776" y="526" width="4" height="11" fill="#008000"/>
<rect x="784" y="526" width="4" height="7" fill="#008000"/>
<rect x="792" y="526" width="4" height="3" fill="#008000"/>
<rect x="800" y="526" width="4" height="1" fill="#008000"/>
<rect x="808" y="525" width="4" height="1" fill="#008000"/>
<rect x="816" y="526" width="4" height="1" fill="#ff0000"/>
<rect x="824" y="526" width="4" height="1" fill="#ff0000"/>
<rect x="832" y="526" width="4" height="4" fill="#ff0000"/>
<rect x="840" y="526" width="4" height="6" fill="#ff0000"/>
<rect x="848" y="526" width="4" height="3" fill="#008000"/>
<rect x="856" y="526" width="4" height="2" fill="#008000"/>
<rect x="864" y="524" width="4" height="2" fill="#008000"/>
<rect x="872" y="520" width="4" height="6" fill="#008000"/>
<rect x="880" y="512" width="4" height="14" fill="#008000"/>
<rect x="888" y="507" width="4" height="19" fill="#008000"/>
<rect x="896" y="499" width="4" height="27" fill="#008000"/>
<rect x="904" y="492" width="4" height="34" fill="#008000"/>
<rect x="912" y="486" width="4" height="40" fill="#008000"/>
<rect x="920" y="485" width="4" height="41" fill="#008000"/>
<rect x="928" y="484" width="4" height="42" fill="#008000"/>
<rect x="936" y="484" width="4" height="42" fill="#008000"/>
<rect x="944" y="486" width="4" height="40" fill="#ff0000"/>
<rect x="952" y="489" width="4" height="37" fill="#ff0000"/>
<rect x="960" y="490" width="4" height="36" fill="#ff0000"/>
<rect x="968" y="492" width="4" height="34" fill="#ff0000"/>
<rect x="976" y="496" width="4" height="30" fill="#ff0000"/>
<rect x="984" y="500" width="4" height="26" fill="#ff0000"/>
<rect x="992" y="504" width="4" height="22" fill="#ff0000"/>
<rect x="1000" y="507" width="4" height="19" fill="#ff0000"/>
<rect x="1008" y="509" width="4" height="17" fill="#ff0000"/>
<rect x="1016" y="510" width="4" height="16" fill="#ff0000"/>
<rect x="1024" y="510" width="4" height="16" fill="#008000"/>
<rect x="1032" y="508" width="4" height="18" fill="#008000"/>
<rect x="1040" y="507" width="4" height="19" fill="#008000"/>
<rect x="1048" y="507" width="4" height="19" fill="#ff0000"/>
<rect x="1056" y="506" width="4" height="20" fill="#008000"/>
<rect x="1064" y="503" width="4" height="23" fill="#008000"/>
<rect x="1072" y="500" width="4" height="26" fill="#008000"/>
<rect x="1080" y="498" width="4" height="28" fill="#008000"/>
<rect x="1088" y="497" width="4" height="29" fill="#008000"/>
<rect x="1096" y="497" width="4" height="29" fill="#ff0000"/>
<rect x="1104" y="500" width="4" height="26" fill="#ff0000"/>
<rect x="0" y="625" width="4" height="7" fill="#008000"/>
<rect x="8" y="626" width="4" height="6" fill="#ff0000"/>
<rect x="16" y="629" width="4" height="3" fill="#ff0000"/>
<rect x="24" y="631" width="4" height="1" fill="#ff0000"/>
<rect x="32" y="631" width="4" height="1" fill="#ff0000"/>
<rect x="40" y="631" width="4" height="1" fill="#008000"/>
<rect x="48" y="627" width="4" height="5" fill="#008000"/>
<rect x="56" y="621" width="4" height="11" fill="#008000"/>
<rect x="64" y="617" width="4" height="15" fill="#008000"/>
<rect x="72" y="622" width="4" height="10" fill="#ff0000"/>
<rect x="80" y="632" width="4" height="1" fill="#ff0000"/>
<rect x="88" y="632" width="4" height="9" fill="#ff0000"/>
<rect x="96" y="632" width="4" height="21" fill="#ff0000"/>
<rect x="104" y="632" width="4" height="34" fill="#ff0000"/>
<rect x="112" y="632" width="4" height="36" fill="#ff0000"/>
<rect x="120" y="632" width="4" height="32" fill="#008000"/>
<rect x="128" y="632" width="4" height="27" fill="#008000"/>
<rect x="136" y="632" width="4" height="18" fill="#008000"/>
<rect x="144" y="632" width="4" height="6" fill="#008000"/>
<rect x="152" y="630" width="4" height="2" fill="#008000"/>
<rect x="160" y="626" width="4" height="6" fill="#008000"/>
<rect x="168" y="625" width="4" height="7" fill="#008000"/>
<rect x="176" y="628" width="4" height="4" fill="#ff0000"/>
<rect x="184" y="626" width="4" height="6" fill="#008000"/>
<rect x="192" y="624" width="4" height="8" fill="#008000"/>
<rect x="200" y="622" width="4" height="10" fill="#008000"/>
<rect x="208" y="619" width="4" height="13" fill="#008000"/>
<rect x="216" y="614" width="4" height="18" fill="#008000"/>
<rect x="224" y="619" width="4" height="13" fill="#ff0000"/>
<rect x="232" y="631" width="4" height="1" fill="#ff0000"/>
<rect x="240" y="632" width="4" height="9" fill="#ff0000"/>
<rect x="248" y="632" width="4" height="13" fill="#ff0000"/>
<rect x="256" y="632" width="4" height="18" fill="#ff0000"/>
<rect x="264" y="632" width="4" height="22" fill="#ff0000"/>
<rect x="272" y="632" width="4" height="25" fill="#ff0000"/>
<rect x="280" y="632" width="4" height="19" fill="#008000"/>
<rect x="288" y="632" width="4" height="15" fill="#008000"/>
<rect x="296" y="632" width="4" height="5" fill="#008000"/>
<rect x="304" y="618" width="4" height="14" fill="#008000"/>
<rect x="312" y="597" width="4" height="35" fill="#008000"/>
<rect x="320" y="588" width="4" height="44" fill="#008000"/>
<rect x="328" y="586" width="4" height="46" fill="#008000"/>
<rect x="336" y="591" width="4" height="41" fill="#ff0000"/>
<rect x="344" y="604" width="4" height="28" fill="#ff0000"/>
<rect x="352" y="613" width="4" height="19" fill="#ff0000"/>
<rect x="360" y="620" width="4" height="12" fill="#ff0000"/>
<rect x="368" y="626" width="4" height="6" fill="#ff0000"/>
<rect x="376" y="631" width="4" height="1" fill="#ff0000"/>
<rect x="384" y="630" width="4" height="2" fill="#008000"/>
<rect x="392" y="632" width="4" height="1" fill="#ff0000"/>
<rect x="400" y="632" width="4" height="2" fill="#ff0000"/>
<rect x="408" y="632" width="4" height="3" fill="#ff0000"/>
<rect x="416" y="632" width="4" height="4" fill="#ff0000"/>
<rect x="424" y="632" width="4" height="3" fill="#008000"/>
<rect x="432" y="632" width="4" height="1" fill="#008000"/>
<rect x="440" y="632" width="4" height="1" fill="#ff0000"/>
<rect x="448" y="632" width="4" height="1" fill="#ff0000"/>
<rect x="456" y="632" width="4" height="1" fill="#008000"/>
<rect x="464" y="631" width="4" height="1" fill="#008000"/>
<rect x="472" y="632" width="4" height="1" fill="#ff0000"/>
<rect x="480" y="632" width="4" height="3" fill="#ff0000"/>
<rect x="488" y="632" width="4" height="5" fill="#ff0000"/>
<rect x="496" y="632" width="4" height="4" fill="#008000"/>
<rect x="504" y="632" width="4" height="6" fill="#ff0000"/>
<rect x="512" y="632" width="4" height="10" fill="#ff0000"/>
<rect x="520" y="632" width="4" height="13" fill="#ff0000"/>
<rect x="528" y="632" width="4" height="17" fill="#ff0000"/>
<rect x="536" y="632" width="4" height="24" fill="#ff0000"/>
<rect x="544" y="632" width="4" height="26" fill="#ff0000"/>
<rect x="552" y="632" width="4" height="23" fill="#008000"/>
<rect x="560" y="632" width="4" height="19" fill="#008000"/>
<rect x="568" y="632" width="4" height="16" fill="#008000"/>
<rect x="576" y="632" width="4" height="10" fill="#008000"/>
<rect x="584" y="632" width="4" height="8" fill="#008000"/>
<rect x="592" y="632" width="4" height="5" fill="#008000"/>
<rect x="600" y="632" width="4" height="2" fill="#008000"/>
<rect x="608" y="632" width="4" height="1" fill="#008000"/>
<rect x="616" y="631" width="4" height="1" fill="#008000"/>
<rect x="624" y="631" width="4" height="1" fill="#ff0000"/>
<rect x="632" y="632" width="4" height="1" fill="#ff0000"/>
<rect x="640" y="632" width="4" height="4" fill="#ff0000"/>
<rect x="648" y="632" width="4" height="8" fill="#ff0000"/>
<rect x="656" y="632" width="4" height="13" fill="#ff0000"/>
<rect x="664" y="632" width="4" height="13" fill="#ff0000"/>
<rect x="672" y="632" width="4" height="8" fill="#008000"/>
<rect x="680" y="632" width="4" height="1" fill="#008000"/>
<rect x="688" y="628" width="4" height="4" fill="#008000"/>
<rect x="696" y="627" width="4" height="5" fill="#008000"/>
<rect x="704" y="630" width="4" height="2" fill="#ff0000"/>
<rect x="712" y="632" width="4" height="1" fill="#ff0000"/>
<rect x="720" y="632" width="4" height="2" fill="#ff0000"/>
<rect x="728" y="632" width="4" height="1" fill="#008000"/>
<rect x="736" y="626" width="4" height="6" fill="#008000"/>
<rect x="744" y="619" width="4" height="13" fill="#008000"/>
<rect x="752" y="615" width="4" height="17" fill="#008000"/>
<rect x="760" y="613" width="4" height="19" fill="#008000"/>
<rect x="768" y="610" width="4" height="22" fill="#008000"/>
<rect x="776" y="607" width="4" height="25" fill="#008000"/>
<rect x="784" y="610" width="4" height="22" fill="#ff0000"/>
<rect x="792" y="611" width="4" height="21" fill="#ff0000"/>
<rect x="800" y="613" width="4" height="19" fill="#ff0000"/>
<rect x="808" y="621" width="4" height="11" fill="#ff0000"/>
<rect x="816" y="628" width="4" height="4" fill="#ff0000"/>
<rect x="824" y="632" width="4" height="1" fill="#ff0000"/>
<rect x="832" y="632" width="4" height="6" fill="#ff0000"/>
<rect x="840" y="632" width="4" height="8" fill="#ff0000"/>
<rect x="848" y="632" width="4" height="1" fill="#008000"/>
<rect x="856" y="629" width="4" height="3" fill="#008000"/>
<rect x="864" y="622" width="4" height="10" fill="#008000"/>
<rect x="872" y="615" width="4" height="17" fill="#008000"/>
<rect x="880" y="608" width="4" height="24" fill="#008000"/>
<rect x="888" y="606" width="4" height="26" fill="#008000"/>
<rect x="896" y="599" width="4" height="33" fill="#008000"/>
<rect x="904" y="598" width="4" height="34" fill="#008000"/>
<rect x="912" y="601" width="4" height="31" fill="#ff0000"/>
<rect x="920" y="611" width="4" height="21" fill="#ff0000"/>
<rect x="928" y="620" width="4" height="12" fill="#ff0000"/>
<rect x="936" y="626" width="4" height="6" fill="#ff0000"/>
<rect x="944" y="632" width="4" height="2" fill="#ff0000"/>
<rect x="952" y="632" width="4" height="8" fill="#ff0000"/>
<rect x="960" y="632" width="4" height="7" fill="#008000"/>
<rect x="968" y="632" width="4" height="9" fill="#ff0000"/>
<rect x="976" y="632" width="4" height="13" fill="#ff0000"/>
<rect x="984" y="632" width="4" height="14" fill="#ff0000"/>
<rect x="992" y="632" width="4" height="17" fill="#ff0000"/>
<rect x="1000" y="632" width="4" height="16" fill="#008000"/>
<rect x="1008" y="632" width="4" height="14" fill="#008000"/>
<rect x="1016" y="632" width="4" height="10" fill="#008000"/>
<rect x="1024" y="632" width="4" height="4" fill="#008000"/>
<rect x="1032" y="629" width="4" height="3" fill="#008000"/>
<rect x="1040" y="628" width="4" height="4" fill="#008000"/>
<rect x="1048" y="629" width="4" height="3" fill="#ff0000"/>
<rect x="1056" y="628" width="4" height="4" fill="#008000"/>
<rect x="1064" y="624" width="4" height="8" fill="#008000"/>
<rect x="1072" y="621" width="4" height="11" fill="#008000"/>
<rect x="1080" y="621" width="4" height="11" fill="#ff0000"/>
<rect x="1088" y="622" width="4" height="10" fill="#ff0000"/>
<rect x="1096" y="627" width="4" height="5" fill="#ff0000"/>
<rect x="1104" y="632" width="4" height="4" fill="#ff0000"/>
<rect x="0" y="725" width="4" height="4" fill="#008000"/>
<rect x="0" y="729" width="4" height="2" fill="#ff0000"/>
<rect x="8" y="724" width="4" height="5" fill="#008000"/>
<rect x="8" y="729" width="4" height="1" fill="#008000"/>
<rect x="16" y="724" width="4" height="5" fill="#ff0000"/>
<rect x="16" y="729" width="4" height="3" fill="#008000"/>
<rect x="24" y="726" width="4" height="3" fill="#ff0000"/>
<rect x="24" y="729" width="4" height="4" fill="#008000"/>
<rect x="32" y="729" width="4" height="2" fill="#ff0000"/>
<rect x="40" y="727" width="4" height="2" fill="#008000"/>
<rect x="40" y="729" width="4" height="1" fill="#ff0000"/>
<rect x="48" y="728" width="4" height="1" fill="#ff0000"/>
<rect x="48" y="729" width="4" height="2" fill="#008000"/>
<rect x="56" y="728" width="4" height="1" fill="#ff0000"/>
<rect x="56" y="729" width="4" height="3" fill="#008000"/>
<rect x="64" y="727" width="4" height="2" fill="#008000"/>
<rect x="64" y="729" width="4" height="8" fill="#008000"/>
<rect x="72" y="728" width="4" height="1" fill="#ff0000"/>
<rect x="72" y="729" width="4" height="11" fill="#008000"/>
<rect x="80" y="725" width="4" height="4" fill="#008000"/>
<rect x="80" y="729" width="4" height="16" fill="#008000"/>
<rect x="88" y="721" width="4" height="8" fill="#008000"/>
<rect x="88" y="729" width="4" height="19" fill="#008000"/>
<rect x="96" y="717" width="4" height="12" fill="#008000"/>
<rect x="96" y="729" width="4" height="15" fill="#ff0000"/>
<rect x="104" y="714" width="4" height="15" fill="#008000"/>
<rect x="104" y="729" width="4" height="4" fill="#ff0000"/>
<rect x="112" y="714" width="4" height="15" fill="#ff0000"/>
<rect x="112" y="729" width="4" height="2" fill="#ff0000"/>
<rect x="120" y="720" width="4" height="9" fill="#ff0000"/>
<rect x="120" y="729" width="4" height="9" fill="#008000"/>
<rect x="128" y="726" width="4" height="3" fill="#ff0000"/>
<rect x="128" y="729" width="4" height="21" fill="#008000"/>
<rect x="136" y="726" width="4" height="3" fill="#ff0000"/>
<rect x="136" y="729" width="4" height="26" fill="#008000"/>
<rect x="144" y="717" width="4" height="12" fill="#008000"/>
<rect x="144" y="729" width="4" height="25" fill="#ff0000"/>
<rect x="152" y="711" width="4" height="18" fill="#008000"/>
<rect x="152" y="729" width="4" height="26" fill="#008000"/>
<rect x="160" y="707" width="4" height="22" fill="#008000"/>
<rect x="160" y="729" width="4" height="25" fill="#ff0000"/>
<rect x="168" y="707" width="4" height="22" fill="#008000"/>
<rect x="168" y="729" width="4" height="23" fill="#ff0000"/>
<rect x="176" y="706" width="4" height="23" fill="#008000"/>
<rect x="176" y="729" width="4" height="19" fill="#ff0000"/>
<rect x="184" y="706" width="4" height="23" fill="#ff0000"/>
<rect x="184" y="729" width="4" height="17" fill="#ff0000"/>
<rect x="192" y="708" width="4" height="21" fill="#ff0000"/>
<rect x="192" y="729" width="4" height="17" fill="#008000"/>
<rect x="200" y="709" width="4" height="20" fill="#ff0000"/>
<rect x="200" y="729" width="4" height="20" fill="#008000"/>
<rect x="208" y="709" width="4" height="20" fill="#ff0000"/>
<rect x="208" y="729" width="4" height="15" fill="#ff0000"/>
<rect x="216" y="707" width="4" height="22" fill="#008000"/>
<rect x="216" y="729" width="4" height="5" fill="#ff0000"/>
<rect x="224" y="709" width="4" height="20" fill="#ff0000"/>
<rect x="224" y="729" width="4" height="2" fill="#ff0000"/>
<rect x="232" y="714" width="4" height="15" fill="#ff0000"/>
<rect x="232" y="729" width="4" height="1" fill="#ff0000"/>
<rect x="240" y="719" width="4" height="10" fill="#ff0000"/>
<rect x="240" y="729" width="4" height="3" fill="#008000"/>
<rect x="248" y="721" width="4" height="8" fill="#ff0000"/>
<rect x="248" y="729" width="4" height="1" fill="#ff0000"/>
<rect x="256" y="724" width="4" height="5" fill="#ff0000"/>
<rect x="256" y="729" width="4" height="10" fill="#008000"/>
<rect x="264" y="722" width="4" height="7" fill="#008000"/>
<rect x="264" y="729" width="4" height="17" fill="#008000"/>
<rect x="272" y="717" width="4" height="12" fill="#008000"/>
<rect x="272" y="729" width="4" height="15" fill="#ff0000"/>
<rect x="280" y="711" width="4" height="18" fill="#008000"/>
<rect x="280" y="729" width="4" height="15" fill="#008000"/>
<rect x="288" y="710" width="4" height="19" fill="#008000"/>
<rect x="288" y="729" width="4" height="27" fill="#008000"/>
<rect x="296" y="709" width="4" height="20" fill="#008000"/>
<rect x="296" y="729" width="4" height="41" fill="#008000"/>
<rect x="304" y="702" width="4" height="27" fill="#008000"/>
<rect x="304" y="729" width="4" height="36" fill="#ff0000"/>
<rect x="312" y="692" width="4" height="37" fill="#008000"/>
<rect x="312" y="729" width="4" height="25" fill="#ff0000"/>
<rect x="320" y="690" width="4" height="39" fill="#008000"/>
<rect x="320" y="729" width="4" height="15" fill="#ff0000"/>
<rect x="328" y="694" width="4" height="35" fill="#ff0000"/>
<rect x="328" y="729" width="4" height="4" fill="#ff0000"/>
<rect x="336" y="703" width="4" height="26" fill="#ff0000"/>
<rect x="336" y="729" width="4" height="5" fill="#008000"/>
<rect x="344" y="711" width="4" height="18" fill="#ff0000"/>
<rect x="344" y="729" width="4" height="13" fill="#008000"/>
<rect x="352" y="720" width="4" height="9" fill="#ff0000"/>
<rect x="352" y="729" width="4" height="19" fill="#008000"/>
<rect x="360" y="728" width="4" height="1" fill="#ff0000"/>
<rect x="360" y="729" width="4" height="21" fill="#008000"/>
<rect x="368" y="724" width="4" height="5" fill="#008000"/>
<rect x="368" y="729" width="4" height="16" fill="#ff0000"/>
<rect x="376" y="720" width="4" height="9" fill="#008000"/>
<rect x="376" y="729" width="4" height="15" fill="#ff0000"/>
<rect x="384" y="722" width="4" height="7" fill="#ff0000"/>
<rect x="384" y="729" width="4" height="20" fill="#008000"/>
<rect x="392" y="721" width="4" height="8" fill="#008000"/>
<rect x="392" y="729" width="4" height="20" fill="#ff0000"/>
<rect x="400" y="719" width="4" height="10" fill="#008000"/>
<rect x="400" y="729" width="4" height="17" fill="#ff0000"/>
<rect x="408" y="716" width="4" height="13" fill="#008000"/>
<rect x="408" y="729" width="4" height="14" fill="#ff0000"/>
<rect x="416" y="716" width="4" height="13" fill="#008000"/>
<rect x="416" y="729" width="4" height="11" fill="#ff0000"/>
<rect x="424" y="717" width="4" height="12" fill="#ff0000"/>
<rect x="424" y="729" width="4" height="12" fill="#008000"/>
<rect x="432" y="719" width="4" height="10" fill="#ff0000"/>
<rect x="432" y="729" width="4" height="13" fill="#008000"/>
<rect x="440" y="718" width="4" height="11" fill="#008000"/>
<rect x="440" y="729" width="4" height="9" fill="#ff0000"/>
<rect x="448" y="717" width="4" height="12" fill="#008000"/>
<rect x="448" y="729" width="4" height="7" fill="#ff0000"/>
<rect x="456" y="718" width="4" height="11" fill="#ff0000"/>
<rect x="456" y="729" width="4" height="8" fill="#008000"/>
<rect x="464" y="719" width="4" height="10" fill="#ff0000"/>
<rect x="464" y="729" width="4" height="9" fill="#008000"/>
<rect x="472" y="720" width="4" height="9" fill="#ff0000"/>
<rect x="472" y="729" width="4" height="10" fill="#008000"/>
<rect x="480" y="718" width="4" height="11" fill="#008000"/>
<rect x="480" y="729" width="4" height="8" fill="#ff0000"/>
<rect x="488" y="717" width="4" height="12" fill="#008000"/>
<rect x="488" y="729" width="4" height="6" fill="#ff0000"/>
<rect x="496" y="718" width="4" height="11" fill="#ff0000"/>
<rect x="496" y="729" width="4" height="5" fill="#ff0000"/>
<rect x="504" y="719" width="4" height="10" fill="#ff0000"/>
<rect x="504" y="729" width="4" height="1" fill="#ff0000"/>
<rect x="512" y="720" width="4" height="9" fill="#ff0000"/>
<rect x="512" y="729" width="4" height="1" fill="#ff0000"/>
<rect x="520" y="723" width="4" height="6" fill="#ff0000"/>
<rect x="520" y="729" width="4" height="2" fill="#008000"/>
<rect x="528" y="724" width="4" height="5" fill="#ff0000"/>
<rect x="528" y="729" width="4" height="1" fill="#ff0000"/>
<rect x="536" y="724" width="4" height="5" fill="#ff0000"/>
<rect x="536" y="729" width="4" height="7" fill="#008000"/>
<rect x="544" y="725" width="4" height="4" fill="#ff0000"/>
<rect x="544" y="729" width="4" height="14" fill="#008000"/>
<rect x="552" y="728" width="4" height="1" fill="#008000"/>
<rect x="552" y="729" width="4" height="17" fill="#008000"/>
<rect x="560" y="723" width="4" height="6" fill="#008000"/>
<rect x="560" y="729" width="4" height="21" fill="#008000"/>
<rect x="568" y="718" width="4" height="11" fill="#008000"/>
<rect x="568" y="729" width="4" height="22" fill="#008000"/>
<rect x="576" y="714" width="4" height="15" fill="#008000"/>
<rect x="576" y="729" width="4" height="22" fill="#ff0000"/>
<rect x="584" y="712" width="4" height="17" fill="#008000"/>
<rect x="584" y="729" width="4" height="25" fill="#008000"/>
<rect x="592" y="710" width="4" height="19" fill="#008000"/>
<rect x="592" y="729" width="4" height="26" fill="#008000"/>
<rect x="600" y="708" width="4" height="21" fill="#008000"/>
<rect x="600" y="729" width="4" height="25" fill="#ff0000"/>
<rect x="608" y="705" width="4" height="24" fill="#008000"/>
<rect x="608" y="729" width="4" height="24" fill="#ff0000"/>
<rect x="616" y="704" width="4" height="25" fill="#008000"/>
<rect x="616" y="729" width="4" height="23" fill="#ff0000"/>
<rect x="624" y="704" width="4" height="25" fill="#ff0000"/>
<rect x="624" y="729" width="4" height="24" fill="#008000"/>
<rect x="632" y="704" width="4" height="25" fill="#008000"/>
<rect x="632" y="729" width="4" height="23" fill="#ff0000"/>
<rect x="640" y="703" width="4" height="26" fill="#008000"/>
<rect x="640" y="729" width="4" height="21" fill="#ff0000"/>
<rect x="648" y="702" width="4" height="27" fill="#008000"/>
<rect x="648" y="729" width="4" height="20" fill="#ff0000"/>
<rect x="656" y="703" width="4" height="26" fill="#ff0000"/>
<rect x="656" y="729" width="4" height="22" fill="#008000"/>
<rect x="664" y="703" width="4" height="26" fill="#ff0000"/>
<rect x="664" y="729" width="4" height="27" fill="#008000"/>
<rect x="672" y="701" width="4" height="28" fill="#008000"/>
<rect x="672" y="729" width="4" height="32" fill="#008000"/>
<rect x="680" y="697" width="4" height="32" fill="#008000"/>
<rect x="680" y="729" width="4" height="35" fill="#008000"/>
<rect x="688" y="693" width="4" height="36" fill="#008000"/>
<rect x="688" y="729" width="4" height="33" fill="#ff0000"/>
<rect x="696" y="689" width="4" height="40" fill="#008000"/>
<rect x="696" y="729" width="4" height="27" fill="#ff0000"/>
<rect x="704" y="689" width="4" height="40" fill="#008000"/>
<rect x="704" y="729" width="4" height="23" fill="#ff0000"/>
<rect x="712" y="691" width="4" height="38" fill="#ff0000"/>
<rect x="712" y="729" width="4" height="25" fill="#008000"/>
<rect x="720" y="694" width="4" height="35" fill="#ff0000"/>
<rect x="720" y="729" width="4" height="30" fill="#008000"/>
<rect x="728" y="694" width="4" height="35" fill="#008000"/>
<rect x="728" y="729" width="4" height="32" fill="#008000"/>
<rect x="736" y="691" width="4" height="38" fill="#008000"/>
<rect x="736" y="729" width="4" height="29" fill="#ff0000"/>
<rect x="744" y="688" width="4" height="41" fill="#008000"/>
<rect x="744" y="729" width="4" height="25" fill="#ff0000"/>
<rect x="752" y="688" width="4" height="41" fill="#008000"/>
<rect x="752" y="729" width="4" height="24" fill="#ff0000"/>
<rect x="760" y="690" width="4" height="39" fill="#ff0000"/>
<rect x="760" y="729" width="4" height="22" fill="#ff0000"/>
<rect x="768" y="692" width="4" height="37" fill="#ff0000"/>
<rect x="768" y="729" width="4" height="16" fill="#ff0000"/>
<rect x="776" y="693" width="4" height="36" fill="#ff0000"/>
<rect x="776" y="729" width="4" height="10" fill="#ff0000"/>
<rect x="784" y="697" width="4" height="32" fill="#ff0000"/>
<rect x="784" y="729" width="4" height="7" fill="#ff0000"/>
<rect x="792" y="701" width="4" height="28" fill="#ff0000"/>
<rect x="792" y="729" width="4" height="2" fill="#ff0000"/>
<rect x="800" y="706" width="4" height="23" fill="#ff0000"/>
<rect x="800" y="729" width="4" height="2" fill="#ff0000"/>
<rect x="808" y="710" width="4" height="19" fill="#ff0000"/>
<rect x="808" y="729" width="4" height="4" fill="#008000"/>
<rect x="816" y="714" width="4" height="15" fill="#ff0000"/>
<rect x="816" y="729" width="4" height="7" fill="#008000"/>
<rect x="824" y="717" width="4" height="12" fill="#ff0000"/>
<rect x="824" y="729" width="4" height="9" fill="#008000"/>
<rect x="832" y="721" width="4" height="8" fill="#ff0000"/>
<rect x="832" y="729" width="4" height="4" fill="#ff0000"/>
<rect x="840" y="723" width="4" height="6" fill="#ff0000"/>
<rect x="840" y="729" width="4" height="2" fill="#ff0000"/>
<rect x="848" y="723" width="4" height="6" fill="#008000"/>
<rect x="848" y="729" width="4" height="4" fill="#008000"/>
<rect x="856" y="719" width="4" height="10" fill="#008000"/>
<rect x="856" y="729" width="4" height="4" fill="#ff0000"/>
<rect x="864" y="717" width="4" height="12" fill="#008000"/>
<rect x="864" y="729" width="4" height="4" fill="#008000"/>
<rect x="872" y="717" width="4" height="12" fill="#008000"/>
<rect x="872" y="729" width="4" height="2" fill="#ff0000"/>
<rect x="880" y="717" width="4" height="12" fill="#ff0000"/>
<rect x="880" y="729" width="4" height="1" fill="#ff0000"/>
<rect x="888" y="722" width="4" height="7" fill="#ff0000"/>
<rect x="888" y="729" width="4" height="4" fill="#008000"/>
<rect x="896" y="722" width="4" height="7" fill="#ff0000"/>
<rect x="896" y="729" width="4" height="13" fill="#008000"/>
<rect x="904" y="726" width="4" height="3" fill="#ff0000"/>
<rect x="904" y="729" width="4" height="22" fill="#008000"/>
<rect x="912" y="728" width="4" height="1" fill="#ff0000"/>
<rect x="912" y="729" width="4" height="28" fill="#008000"/>
<rect x="920" y="718" width="4" height="11" fill="#008000"/>
<rect x="920" y="729" width="4" height="32" fill="#008000"/>
<rect x="928" y="712" width="4" height="17" fill="#008000"/>
<rect x="928" y="729" width="4" height="37" fill="#008000"/>
<rect x="936" y="706" width="4" height="23" fill="#008000"/>
<rect x="936" y="729" width="4" height="40" fill="#008000"/>
<rect x="944" y="700" width="4" height="29" fill="#008000"/>
<rect x="944" y="729" width="4" height="35" fill="#ff0000"/>
<rect x="952" y="696" width="4" height="33" fill="#008000"/>
<rect x="952" y="729" width="4" height="33" fill="#ff0000"/>
<rect x="960" y="695" width="4" height="34" fill="#008000"/>
<rect x="960" y="729" width="4" height="33" fill="#008000"/>
<rect x="968" y="696" width="4" height="33" fill="#ff0000"/>
<rect x="968" y="729" width="4" height="28" fill="#ff0000"/>
<rect x="976" y="696" width="4" height="33" fill="#ff0000"/>
<rect x="976" y="729" width="4" height="24" fill="#ff0000"/>
<rect x="984" y="697" width="4" height="32" fill="#ff0000"/>
<rect x="984" y="729" width="4" height="23" fill="#ff0000"/>
<rect x="992" y="699" width="4" height="30" fill="#ff0000"/>
<rect x="992" y="729" width="4" height="21" fill="#ff0000"/>
<rect x="1000" y="700" width="4" height="29" fill="#ff0000"/>
<rect x="1000" y="729" width="4" height="15" fill="#ff0000"/>
<rect x="1008" y="701" width="4" height="28" fill="#ff0000"/>
<rect x="1008" y="729" width="4" height="10" fill="#ff0000"/>
<rect x="1016" y="704" width="4" height="25" fill="#ff0000"/>
<rect x="1016" y="729" width="4" height="4" fill="#ff0000"/>
<rect x="1024" y="708" width="4" height="21" fill="#ff0000"/>
<rect x="1024" y="729" width="4" height="5" fill="#008000"/>
<rect x="1032" y="713" width="4" height="16" fill="#ff0000"/>
<rect x="1032" y="729" width="4" height="8" fill="#008000"/>
<rect x="1040" y="713" width="4" height="16" fill="#ff0000"/>
<rect x="1040" y="729" width="4" height="8" fill="#008000"/>
<rect x="1048" y="713" width="4" height="16" fill="#008000"/>
<rect x="1048" y="729" width="4" height="9" fill="#008000"/>
<rect x="1056" y="712" width="4" height="17" fill="#008000"/>
<rect x="1056" y="729" width="4" height="11" fill="#008000"/>
<rect x="1064" y="711" width="4" height="18" fill="#008000"/>
<rect x="1064" y="729" width="4" height="12" fill="#008000"/>
<rect x="1072" y="710" width="4" height="19" fill="#008000"/>
<rect x="1072" y="729" width="4" height="11" fill="#ff0000"/>
<rect x="1080" y="709" width="4" height="20" fill="#008000"/>
<rect x="1080" y="729" width="4" height="12" fill="#008000"/>
<rect x="1088" y="710" width="4" height="19" fill="#ff0000"/>
<rect x="1088" y="729" width="4" height="21" fill="#008000"/>
<rect x="1096" y="709" width="4" height="20" fill="#008000"/>
<rect x="1096" y="729" width="4" height="27" fill="#008000"/>
<rect x="1104" y="704" width="4" height="25" fill="#008000"/>
<rect x="1104" y="729" width="4" height="25" fill="#ff0000"/>
<rect x="1112" y="699" width="4" height="30" fill="#008000"/>
<rect x="1112" y="729" width="4" height="22" fill="#ff0000"/>
<rect x="1120" y="697" width="4" height="32" fill="#008000"/>
<rect x="1120" y="729" width="4" height="18" fill="#ff0000"/>
<rect x="1128" y="698" width="4" height="31" fill="#ff0000"/>
<rect x="1128" y="729" width="4" height="16" fill="#ff0000"/>
<rect x="1136" y="701" width="4" height="28" fill="#ff0000"/>
<rect x="1144" y="703" width="4" height="26" fill="#ff0000"/>
</g>
<g class="cr" stroke="#dedede" stroke-width="1" stroke-dasharray="3 3" fill="none">
<line x1="2" y1="526.5" x2="1227" y2="526.5"/>
<line x1="2" y1="632.5" x2="1227" y2="632.5"/>
<line x1="2" y1="729.5" x2="1227" y2="729.5"/>
</g>
<g class="cr">
<rect x="0" y="0" width="2" height="800" fill="#fff"/>
<rect x="2.5" y="2.5" width="1225" height="471" fill="none" stroke="#000" stroke-width="1"/>
<rect x="2.5" y="475.5" width="1225" height="100" fill="none" stroke="#000" stroke-width="1"/>
<rect x="2.5" y="577.5" width="1225" height="100" fill="none" stroke="#000" stroke-width="1"/>
<rect x="2.5" y="679.5" width="1225" height="100" fill="none" stroke="#000" stroke-width="1"/>
<rect x="1228" y="8" width="4" height="1" fill="#000"/>
<rect x="1228" y="41" width="4" height="1" fill="#000"/>
<rect x="1228" y="74" width="4" height="1" fill="#000"/>
<rect x="1228" y="107" width="4" height="1" fill="#000"/>
<rect x="1228" y="141" width="4" height="1" fill="#000"/>
<rect x="1228" y="174" width="4" height="1" fill="#000"/>
<rect x="1228" y="207" width="4" height="1" fill="#000"/>
<rect x="1228" y="240" width="4" height="1" fill="#000"/>
<rect x="1228" y="274" width="4" height="1" fill="#000"/>
<rect x="1228" y="307" width="4" height="1" fill="#000"/>
<rect x="1228" y="340" width="4" height="1" fill="#000"/>
<rect x="1228" y="373" width="4" height="1" fill="#000"/>
<rect x="1228" y="407" width="4" height="1" fill="#000"/>
<rect x="1228" y="440" width="4" height="1" fill="#000"/>
<rect x="1228" y="476" width="4" height="1" fill="#000"/>
<rect x="1228" y="574" width="4" height="1" fill="#000"/>
<rect x="1228" y="578" width="4" height="1" fill="#000"/>
<rect x="1228" y="676" width="4" height="1" fill="#000"/>
<rect x="1228" y="680" width="4" height="1" fill="#000"/>
<rect x="1228" y="778" width="4" height="1" fill="#000"/>
<rect x="1228" y="526" width="2" height="1" fill="#dedede"/>
<rect x="1228" y="632" width="2" height="1" fill="#dedede"/>
<rect x="1228" y="729" width="2" height="1" fill="#dedede"/>
<rect x="2" y="780" width="1" height="4" fill="#000"/>
<rect x="66" y="780" width="1" height="4" fill="#000"/>
<rect x="130" y="780" width="1" height="4" fill="#000"/>
<rect x="194" y="780" width="1" height="4" fill="#000"/>
<rect x="258" y="780" width="1" height="4" fill="#000"/>
<rect x="322" y="780" width="1" height="4" fill="#000"/>
<rect x="386" y="780" width="1" height="4" fill="#000"/>
<rect x="450" y="780" width="1" height="4" fill="#000"/>
<rect x="514" y="780" width="1" height="4" fill="#000"/>
<rect x="578" y="780" width="1" height="4" fill="#000"/>
<rect x="642" y="780" width="1" height="4" fill="#000"/>
<rect x="706" y="780" width="1" height="4" fill="#000"/>
<rect x="770" y="780" width="1" height="4" fill="#000"/>
<rect x="834" y="780" width="1" height="4" fill="#000"/>
<rect x="898" y="780" width="1" height="4" fill="#000"/>
<rect x="962" y="780" width="1" height="4" fill="#000"/>
<rect x="1026" y="780" width="1" height="4" fill="#000"/>
<rect x="1090" y="780" width="1" height="4" fill="#000"/>
</g>
<g id="labels">
<text x="1233" y="11.6" textLength="32" lengthAdjust="spacingAndGlyphs">0.80720</text>
<text x="1233" y="44.6" textLength="32" lengthAdjust="spacingAndGlyphs">0.80660</text>
<text x="1233" y="77.6" textLength="32" lengthAdjust="spacingAndGlyphs">0.80600</text>
<text x="1233" y="110.6" textLength="32" lengthAdjust="spacingAndGlyphs">0.80540</text>
<text x="1233" y="144.6" textLength="32" lengthAdjust="spacingAndGlyphs">0.80480</text>
<text x="1233" y="177.6" textLength="32" lengthAdjust="spacingAndGlyphs">0.80420</text>
<text x="1233" y="210.6" textLength="32" lengthAdjust="spacingAndGlyphs">0.80360</text>
<text x="1233" y="243.6" textLength="32" lengthAdjust="spacingAndGlyphs">0.80300</text>
<text x="1233" y="277.6" textLength="32" lengthAdjust="spacingAndGlyphs">0.80240</text>
<text x="1233" y="310.6" textLength="32" lengthAdjust="spacingAndGlyphs">0.80180</text>
<text x="1233" y="343.6" textLength="32" lengthAdjust="spacingAndGlyphs">0.80120</text>
<text x="1233" y="376.6" textLength="32" lengthAdjust="spacingAndGlyphs">0.80060</text>
<text x="1233" y="410.6" textLength="32" lengthAdjust="spacingAndGlyphs">0.80000</text>
<text x="1233" y="443.6" textLength="32" lengthAdjust="spacingAndGlyphs">0.79940</text>
<rect class="cr" x="1230" y="148" width="39" height="11" fill="#c80000"/>
<text x="1233" y="157" textLength="32" lengthAdjust="spacingAndGlyphs" style="fill:#fff;stroke:#fff">0.80458</text>
<text x="1233" y="484" textLength="37.5" lengthAdjust="spacingAndGlyphs">0.003058</text>
<text x="1233" y="528.9" textLength="37.5" lengthAdjust="spacingAndGlyphs">0.000000</text>
<text x="1233" y="573.4" textLength="40.5" lengthAdjust="spacingAndGlyphs">-0.002990</text>
<text x="1233" y="586.5" textLength="42" lengthAdjust="spacingAndGlyphs">0.0014180</text>
<text x="1233" y="635" textLength="42" lengthAdjust="spacingAndGlyphs">0.0000000</text>
<text x="1233" y="675.8" textLength="45.5" lengthAdjust="spacingAndGlyphs">-0.0011790</text>
<text x="1233" y="688.6" textLength="38" lengthAdjust="spacingAndGlyphs">0.001364</text>
<text x="1233" y="732" textLength="37.5" lengthAdjust="spacingAndGlyphs">0.000000</text>
<text x="1233" y="777.3" textLength="40.5" lengthAdjust="spacingAndGlyphs">-0.001363</text>
<text x="6" y="488" textLength="29.5" lengthAdjust="spacingAndGlyphs">AOcust</text>
<text x="40" y="488" textLength="37" lengthAdjust="spacingAndGlyphs">0.001521</text>
<text x="6" y="590" textLength="28.5" lengthAdjust="spacingAndGlyphs">ACcust</text>
<text x="39" y="590" textLength="45" lengthAdjust="spacingAndGlyphs">-0.0001143</text>
<text x="6" y="692" textLength="41" lengthAdjust="spacingAndGlyphs">GatorCust</text>
<text x="51" y="692" textLength="37" lengthAdjust="spacingAndGlyphs">0.000699</text>
<text x="92" y="692" textLength="40" lengthAdjust="spacingAndGlyphs">-0.000427</text>
<text x="2.5" y="791.6" textLength="53" lengthAdjust="spacingAndGlyphs">28 Nov 2025</text>
<text x="66.5" y="791.6" textLength="56" lengthAdjust="spacingAndGlyphs">28 Nov 13:00</text>
<text x="130.5" y="791.6" textLength="56" lengthAdjust="spacingAndGlyphs">28 Nov 21:00</text>
<text x="194.5" y="791.6" textLength="49" lengthAdjust="spacingAndGlyphs">1 Dec 05:00</text>
<text x="258.5" y="791.6" textLength="49" lengthAdjust="spacingAndGlyphs">1 Dec 13:00</text>
<text x="322.5" y="791.6" textLength="49" lengthAdjust="spacingAndGlyphs">1 Dec 21:00</text>
<text x="386.5" y="791.6" textLength="49" lengthAdjust="spacingAndGlyphs">2 Dec 05:00</text>
<text x="450.5" y="791.6" textLength="49" lengthAdjust="spacingAndGlyphs">2 Dec 13:00</text>
<text x="514.5" y="791.6" textLength="49" lengthAdjust="spacingAndGlyphs">2 Dec 21:00</text>
<text x="578.5" y="791.6" textLength="49" lengthAdjust="spacingAndGlyphs">3 Dec 05:00</text>
<text x="642.5" y="791.6" textLength="49" lengthAdjust="spacingAndGlyphs">3 Dec 13:00</text>
<text x="706.5" y="791.6" textLength="49" lengthAdjust="spacingAndGlyphs">3 Dec 21:00</text>
<text x="770.5" y="791.6" textLength="49" lengthAdjust="spacingAndGlyphs">4 Dec 05:00</text>
<text x="834.5" y="791.6" textLength="49" lengthAdjust="spacingAndGlyphs">4 Dec 13:00</text>
<text x="898.5" y="791.6" textLength="49" lengthAdjust="spacingAndGlyphs">4 Dec 21:00</text>
<text x="962.5" y="791.6" textLength="49" lengthAdjust="spacingAndGlyphs">5 Dec 05:00</text>
<text x="1026.5" y="791.6" textLength="49" lengthAdjust="spacingAndGlyphs">5 Dec 13:00</text>
<text x="1090.5" y="791.6" textLength="49" lengthAdjust="spacingAndGlyphs">5 Dec 21:00</text>
</g>
</svg></body></html>
